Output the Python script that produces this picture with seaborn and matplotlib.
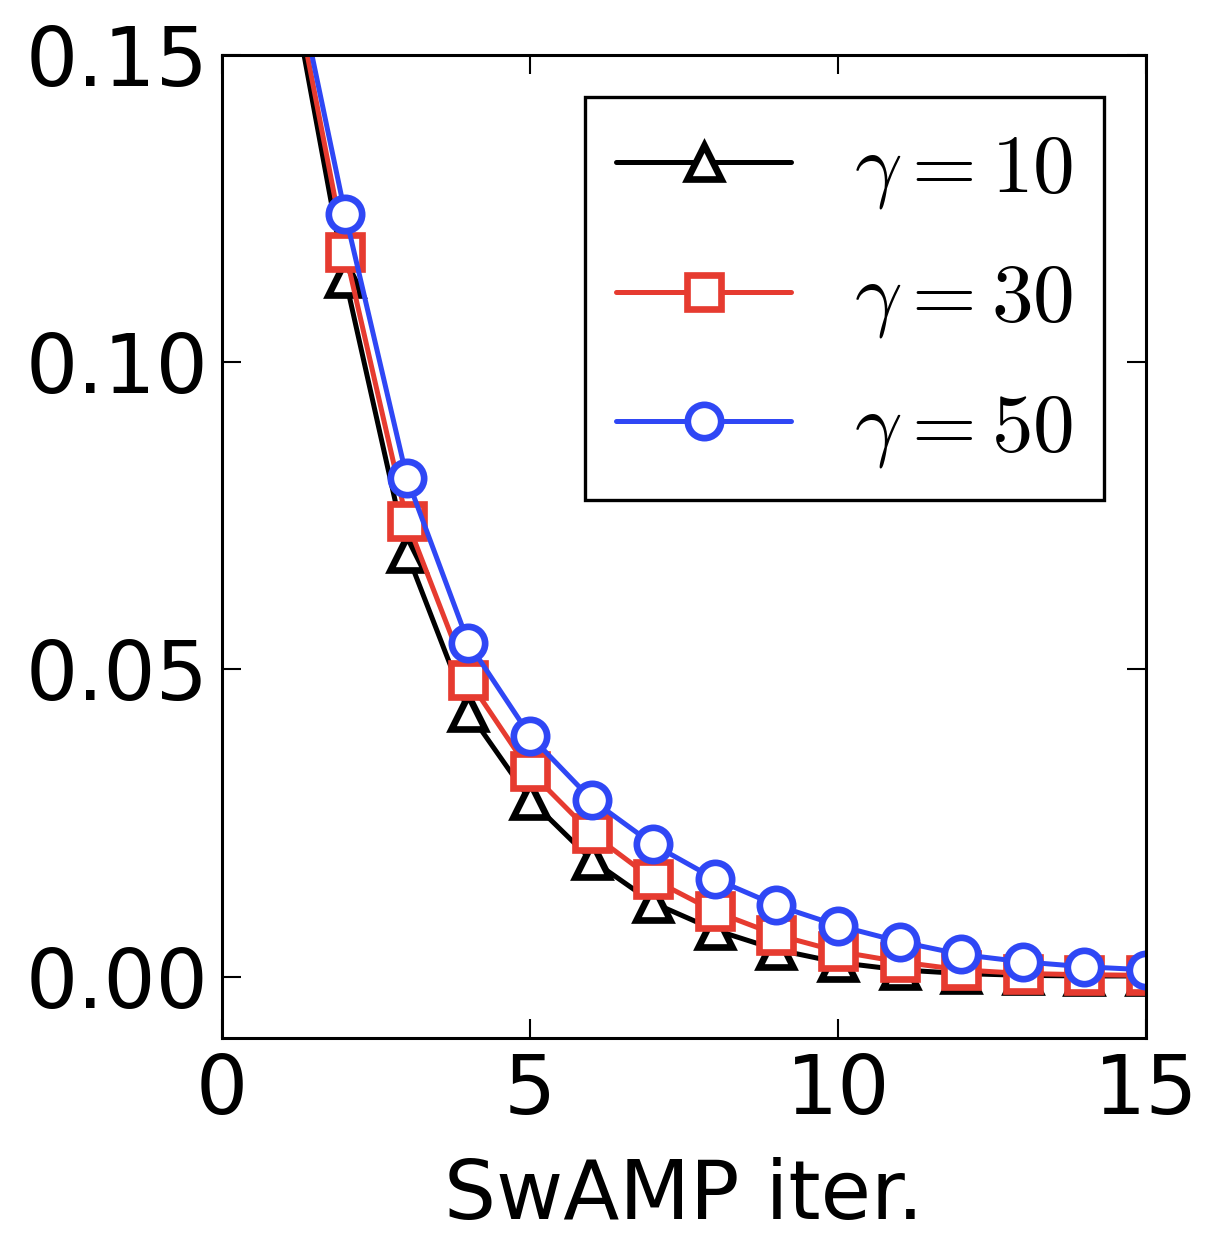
import numpy as np
import pandas as pd
import matplotlib
matplotlib.use('Agg')
import matplotlib.pyplot as plt
import seaborn as sns

# values (iteration 1 sits above the axis top)
iters = list(range(1, 16))
err_g10 = [0.168, 0.1137, 0.069, 0.0431, 0.0288, 0.019, 0.012, 0.0076,
           0.0044, 0.0023, 0.0011, 0.0005, 0.0002, 0.0001, 0.0001]
err_g30 = [0.170, 0.118, 0.0742, 0.0483, 0.0334, 0.0233, 0.0158, 0.0106,
           0.0068, 0.0041, 0.0024, 0.0011, 0.0005, 0.0003, 0.0002]
err_g50 = [0.172, 0.1241, 0.0812, 0.0543, 0.0392, 0.0288, 0.0215, 0.0159,
           0.0116, 0.0083, 0.0057, 0.0036, 0.0024, 0.0016, 0.0011]
labels = [r'$\gamma=10$', r'$\gamma=30$', r'$\gamma=50$']

sns.set_style('white')
plt.rcParams['font.family'] = ['DejaVu Sans']
plt.rcParams['mathtext.fontset'] = 'cm'
plt.rcParams['text.color'] = 'black'
plt.rcParams['axes.labelcolor'] = 'black'
plt.rcParams['xtick.color'] = 'black'
plt.rcParams['ytick.color'] = 'black'

fig = plt.figure(figsize=(12.3, 12.35), dpi=100)
ax = fig.add_axes([0.1805, 0.1595, 0.7512, 0.796])

series = [
    (err_g10, '^', 'black'),
    (err_g30, 's', '#e63b30'),
    (err_g50, 'o', '#2f47f5'),
]
for (vals, mk, col), lab in zip(series, labels):
    sns.lineplot(x=iters, y=vals, ax=ax, color=col, linewidth=3.6,
                 marker=mk, markersize=24, markerfacecolor='white',
                 markeredgecolor=col, markeredgewidth=4.8, label=lab)

ax.set_xlim(0, 15)
ax.set_ylim(-0.01, 0.15)
ax.set_xticks([0, 5, 10, 15])
ax.set_yticks([0.0, 0.05, 0.10, 0.15])
ax.set_yticklabels(['0.00', '0.05', '0.10', '0.15'])
ax.tick_params(direction='in', length=14, width=1.5, labelsize=59,
               top=True, right=True, bottom=True, left=True, pad=10)
for sp in ax.spines.values():
    sp.set_linewidth(2.2)
    sp.set_color('black')
ax.set_xlabel('SwAMP iter.', fontsize=59, labelpad=19)

leg = ax.legend(loc='upper right', fontsize=60, frameon=True, fancybox=False,
                framealpha=1, handlelength=2.1, borderaxespad=0.5,
                labelspacing=0.55, handletextpad=0.76, borderpad=0.37)
leg.get_frame().set_edgecolor('black')
leg.get_frame().set_linewidth(2.4)

fig.savefig('out.png', dpi=100)
